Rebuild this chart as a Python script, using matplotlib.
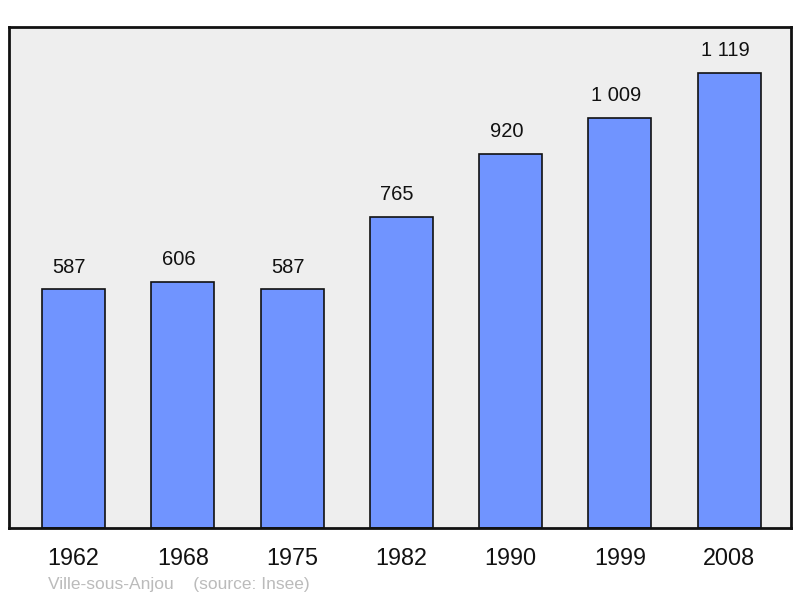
import matplotlib
matplotlib.use("Agg")
import matplotlib.pyplot as plt

years = ["1962", "1968", "1975", "1982", "1990", "1999", "2008"]
population = [587, 606, 587, 765, 920, 1009, 1119]
value_labels = ["587", "606", "587", "765", "920", "1 009", "1 119"]
caption = "Ville-sous-Anjou    (source: Insee)"

plt.rcParams['font.family'] = ['Liberation Sans', 'DejaVu Sans']

fig = plt.figure(figsize=(8, 5.98), dpi=100)
ax = fig.add_axes([9/800, 70/598, 782/800, 501/598])
ax.set_facecolor('#eeeeee')
x = list(range(len(years)))
ax.bar(x, population, width=0.576, color='#7094ff', edgecolor='#111111', linewidth=1.2, zorder=2)
ax.set_xlim(-0.59, 6.565)
ax.set_ylim(0, 1232)
for xi, v, lab in zip(x, population, value_labels):
    ax.annotate(lab, (xi, v), xytext=(-3, 16), textcoords='offset points',
                ha='center', va='center', fontsize=14.5, color='#111111')
ax.set_xticks(x)
ax.set_xticklabels(years, fontsize=16.8, color='#111111')
ax.tick_params(axis='x', length=0, pad=13.5)
ax.set_yticks([])
for s in ax.spines.values():
    s.set_linewidth(2)
    s.set_color('#111111')
fig.text(48/800, 1 - 584/598, caption, fontsize=12.5, color='#bbbbbb', ha='left', va='center')
fig.savefig('out.png', dpi=100)
